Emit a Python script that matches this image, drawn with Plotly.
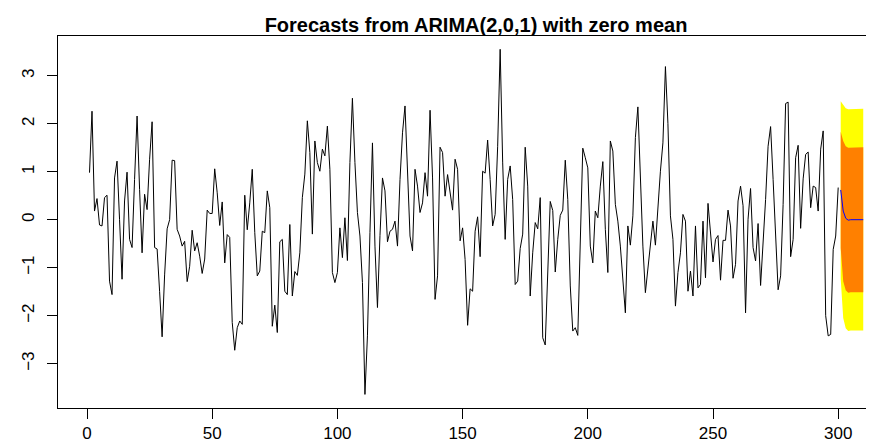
import plotly.graph_objects as go

# ---- data ----
series = [
    0.98, 2.26, 0.18, 0.44, -0.11, -0.13, 0.46, 0.51, -1.28, -1.56,
    0.87, 1.22, 0.0, -1.24, 0.39, 0.99, -0.41, -0.58, 0.84, 2.16,
    0.63, -0.69, 0.53, 0.21, 1.26, 2.04, -0.58, -0.61, -1.5, -2.44,
    -1.15, -0.19, 0.0, 1.24, 1.23, -0.2, -0.34, -0.55, -0.45, -1.29,
    -0.97, -0.22, -0.65, -0.48, -0.76, -1.12, -0.82, 0.2, 0.13, 0.13,
    1.06, 0.56, -0.12, 0.37, -0.9, -0.31, -0.37, -2.14, -2.72, -2.25,
    -2.11, -2.18, 0.51, -0.21, 0.35, 1.05, -0.27, -1.17, -1.07, -0.24,
    -0.27, 0.6, 0.25, -2.22, -1.78, -2.35, -0.46, -0.41, -1.49, -1.56,
    -0.1, -1.59, -1.08, -1.16, -0.69, 0.46, 0.95, 2.06, 1.4, -0.3,
    1.64, 1.19, 1.01, 1.47, 1.33, 1.95, 1.05, -1.1, -1.31, -1.1,
    -0.17, -0.79, 0.04, -0.85, 1.19, 2.53, 1.19, 0.15, -0.34, -1.31,
    -3.64, -2.42, -0.27, 1.6, -0.55, -1.83, -0.33, 0.87, 0.6, -0.46,
    -0.24, -0.2, -0.03, -0.55, 0.84, 1.81, 2.37, 0.84, -0.34, -0.65,
    1.05, 0.7, 0.15, 0.35, 0.98, 0.49, 2.28, 0.87, -1.66, -1.17,
    1.51, 1.4, 0.49, 0.94, 0.56, 0.2, 1.26, 1.05, -0.44, -0.17,
    -0.83, -2.2, -1.44, -1.49, -0.24, 0.06, -0.77, 1.01, 0.97, 1.66,
    0.84, -0.13, 0.11, 1.53, 3.55, 1.2, -0.41, 0.84, 1.12, 0.42,
    -1.35, -1.28, -0.6, -0.3, 1.51, 0.7, -1.59, -0.69, -0.06, -0.19,
    0.46, -2.46, -2.61, -1.0, 0.38, 0.19, -1.09, -0.41, 0.09, 0.2,
    1.24, 0.42, -1.38, -2.32, -2.25, -2.41, -0.2, 1.49, 1.29, 1.08,
    -0.55, -0.9, 0.18, 0.04, 0.7, 1.21, -0.2, -1.1, 1.64, 1.43,
    0.32, -0.03, -0.55, -1.24, -1.94, -0.13, -0.53, 0.08, 1.71, 2.35,
    0.7, -0.55, -1.52, -0.97, -0.48, -0.03, -0.53, 0.36, 1.01, 1.6,
    3.19, 2.0, 0.08, -0.41, -1.8, -1.1, -0.69, 0.11, -0.03, -1.49,
    -1.07, -1.59, -0.13, -1.42, -1.35, -0.03, -1.21, 0.34, -0.27, -0.88,
    -0.41, -0.33, -1.26, -0.43, -0.43, 0.2, -0.13, -1.22, -0.93, 0.39,
    0.7, 0.29, -1.94, 0.01, 0.65, -0.58, -0.86, -0.08, -1.37, -0.55,
    0.42, 1.53, 1.94, 0.84, -0.34, -1.46, -1.17, 0.32, 2.42, 2.45,
    -0.77, -0.41, 1.29, 1.55, -0.18, 0.85, 1.36, 1.41, 0.25, 0.7,
    0.67, 0.18, 1.47, 1.85, -2.0, -2.42, -2.39, -0.62, -0.34, 0.67,
]
time = list(range(1, len(series) + 1))

fc_time = list(range(301, 311))
fc_mean = [0.62, 0.18, 0.03, -0.01, 0.0, 0.0, 0.0, 0.0, 0.0, 0.0]
lo80 = [-0.59, -1.28, -1.47, -1.52, -1.51, -1.51, -1.51, -1.51, -1.51, -1.51]
hi80 = [1.83, 1.64, 1.53, 1.50, 1.51, 1.51, 1.51, 1.51, 1.51, 1.51]
lo95 = [-1.23, -2.05, -2.26, -2.32, -2.31, -2.31, -2.31, -2.31, -2.31, -2.31]
hi95 = [2.47, 2.41, 2.32, 2.30, 2.31, 2.31, 2.31, 2.31, 2.31, 2.31]

x_ticks = [0, 50, 100, 150, 200, 250, 300]
y_ticks = [-3, -2, -1, 0, 1, 2, 3]
title_text = "Forecasts from ARIMA(2,0,1) with zero mean"

FONT = "Liberation Sans, Arial, Helvetica, sans-serif"

fig = go.Figure()
fig.add_trace(go.Scatter(
    x=fc_time + fc_time[::-1], y=lo95 + hi95[::-1],
    fill="toself", fillcolor="#FFFF00", mode="lines",
    line=dict(width=0, color="#FFFF00"), hoverinfo="skip"))
fig.add_trace(go.Scatter(
    x=fc_time + fc_time[::-1], y=lo80 + hi80[::-1],
    fill="toself", fillcolor="#FF8000", mode="lines",
    line=dict(width=0, color="#FF8000"), hoverinfo="skip"))
fig.add_trace(go.Scatter(
    x=time, y=series, mode="lines",
    line=dict(color="black", width=1)))
fig.add_trace(go.Scatter(
    x=fc_time, y=fc_mean, mode="lines",
    line=dict(color="#0000FF", width=1)))

fig.update_layout(
    width=874, height=444,
    margin=dict(l=50, r=0, t=28, b=44, pad=0),
    paper_bgcolor="white", plot_bgcolor="white",
    showlegend=False,
    font=dict(family=FONT, color="black"),
    title=dict(
        text="<b>" + title_text + "</b>",
        x=468 / 874, xref="container", xanchor="center",
        y=1 - 16.5 / 444, yref="container", yanchor="middle",
        font=dict(family=FONT, size=20, color="black")),
    xaxis=dict(
        range=[-11.58, 317.49], tickvals=x_ticks,
        ticks="outside", ticklen=10, tickwidth=1, tickcolor="black",
        showline=True, linecolor="black", linewidth=1, mirror=True,
        showgrid=False, zeroline=False,
        tickfont=dict(family=FONT, size=17, color="black")),
    yaxis=dict(
        range=[-3.923, 3.827], tickvals=y_ticks, tickangle=-90,
        ticks="outside", ticklen=10, tickwidth=1, tickcolor="black",
        ticklabelstandoff=6,
        showline=True, linecolor="black", linewidth=1, mirror=False,
        showgrid=False, zeroline=False,
        tickfont=dict(family=FONT, size=17, color="black")),
)

fig.write_html("out.html")
